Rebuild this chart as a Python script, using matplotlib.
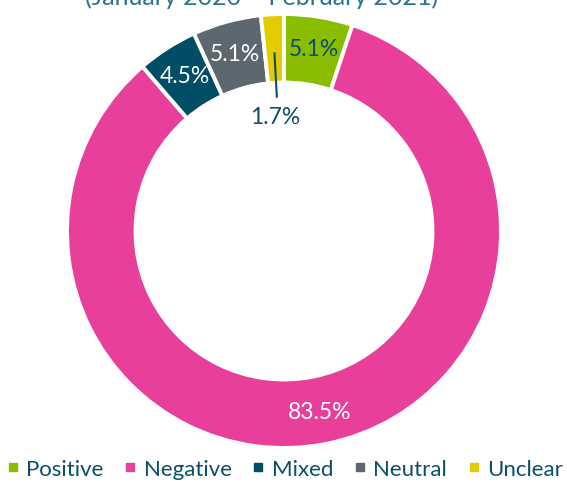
import numpy as np
import matplotlib.pyplot as plt
from matplotlib.lines import Line2D

plt.rcParams['font.family'] = ['Lato', 'DejaVu Sans']

categories = ['Positive', 'Negative', 'Mixed', 'Neutral', 'Unclear']
shares = [5.1, 83.5, 4.5, 5.1, 1.7]
labels = ['5.1%', '83.5%', '4.5%', '5.1%', '1.7%']
colors = ['#8abd00', '#e8409a', '#004d66', '#5c6770', '#e3cc00']
label_colors = ['#0b4f6c', 'white', 'white', 'white', '#0b4f6c']
title = '(January 2020 – February 2021)'

text_color = '#0b4f6c'

fig = plt.figure(figsize=(5.67, 4.85), dpi=100)
ax = fig.add_axes([0, 0, 1, 1])

cx, cy, R = 284, 485 - 232, 217
ring = 68.5

wedges, _ = ax.pie(shares, colors=colors, startangle=90, counterclock=False,
                   center=(cx, cy), radius=R, normalize=True,
                   wedgeprops=dict(width=ring, edgecolor='white', linewidth=2.8))

# pie() resets the limits, so set them afterwards
ax.set_xlim(0, 567)
ax.set_ylim(0, 485)
ax.set_aspect('equal')
ax.axis('off')

# percentage labels
for i, w in enumerate(wedges):
    ang = np.deg2rad((w.theta1 + w.theta2) / 2)
    if categories[i] == 'Unclear':
        # small slice: leader line into the hole
        r1, r2, r3 = 0.82 * R, 0.62 * R, 0.53 * R
        ax.plot([cx + r1 * np.cos(ang), cx + r2 * np.cos(ang)],
                [cy + r1 * np.sin(ang), cy + r2 * np.sin(ang)],
                color=text_color, lw=1.5)
        ax.text(cx + r3 * np.cos(ang) - 3, cy + r3 * np.sin(ang), labels[i],
                ha='center', va='center', fontsize=16.5, color=label_colors[i])
    else:
        r = 0.85 * R
        ax.text(cx + r * np.cos(ang), cy + r * np.sin(ang), labels[i],
                ha='center', va='center', fontsize=16.5, color=label_colors[i])

# title, clipped at the top of the image
fig.text(0.462, 0.99, title, ha='center', va='baseline', fontsize=18,
         color='#2a7393')

handles = [Line2D([0], [0], marker='s', color='none', markerfacecolor=c,
                  markeredgecolor=c, markersize=6) for c in colors]
leg = fig.legend(handles, categories, loc='center', bbox_to_anchor=(0.502, 0.031),
                 ncol=5, frameon=False, fontsize=16, handlelength=0.6,
                 handletextpad=0.3, columnspacing=0.9)
for t in leg.get_texts():
    t.set_color(text_color)

fig.savefig('out.png', dpi=100)
